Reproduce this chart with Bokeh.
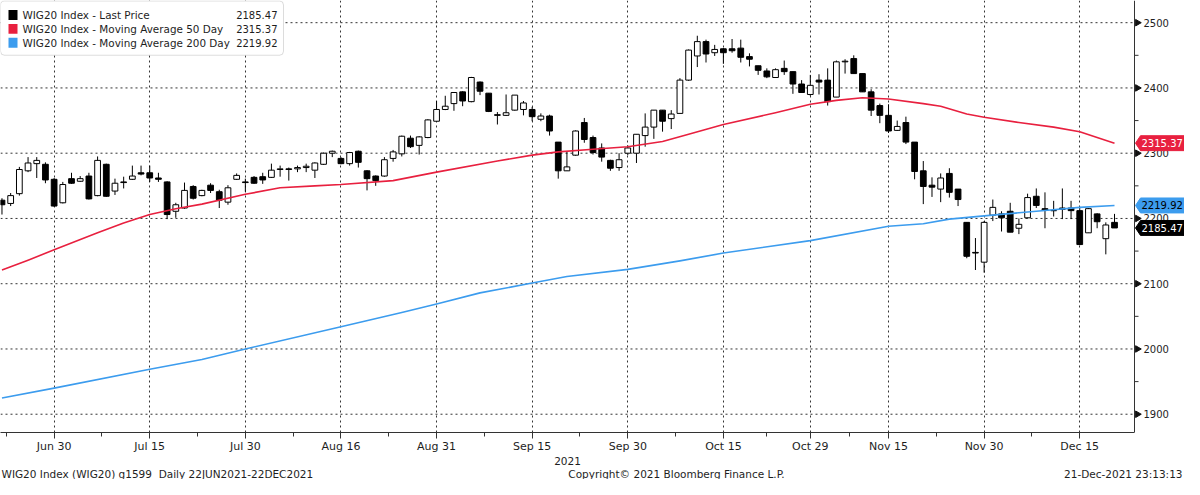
import math
from bokeh.plotting import figure
from bokeh.models import Range1d, FixedTicker, Label, BoxAnnotation, ColumnDataSource
from bokeh.layouts import column
from bokeh.core.properties import value
from bokeh.embed import file_html
from bokeh.resources import INLINE

# ---------------- data (trading-day index 0 = 22 Jun 2021) ----------------
opens = [2228, 2223, 2238, 2273, 2284, 2283, 2260, 2224, 2261, 2257,
         2265, 2235, 2283, 2242, 2256, 2260, 2270, 2270, 2262, 2256,
         2211, 2216, 2249, 2235, 2251, 2241, 2225, 2260, 2256, 2263,
         2264, 2263, 2275, 2276, 2276, 2278, 2274, 2283, 2300, 2292,
         2284, 2303, 2273, 2265, 2265, 2292, 2299, 2323, 2312, 2324,
         2349, 2367, 2376, 2394, 2379, 2409, 2392, 2359, 2358, 2366,
         2367, 2367, 2352, 2357, 2317, 2273, 2297, 2347, 2324, 2308,
         2289, 2278, 2300, 2300, 2327, 2340, 2366, 2353, 2361, 2412,
         2449, 2471, 2454, 2460, 2460, 2461, 2448, 2434, 2426, 2416,
         2430, 2425, 2406, 2390, 2412, 2412, 2386, 2440, 2445, 2422,
         2394, 2373, 2358, 2335, 2347, 2317, 2273, 2251, 2245, 2269,
         2245, 2194, 2148, 2133, 2205, 2207, 2211, 2185, 2201, 2234,
         2215, 2212, 2216, 2216, 2212, 2178, 2207, 2169, 2194]
highs = [2231, 2239, 2279, 2294, 2294, 2286, 2262, 2256, 2270, 2265,
         2270, 2295, 2284, 2261, 2264, 2281, 2281, 2281, 2270, 2257,
         2224, 2255, 2251, 2244, 2254, 2244, 2251, 2269, 2261, 2265,
         2270, 2284, 2281, 2278, 2281, 2284, 2286, 2301, 2304, 2294,
         2302, 2304, 2274, 2266, 2294, 2305, 2327, 2327, 2326, 2352,
         2380, 2388, 2393, 2395, 2417, 2410, 2392, 2363, 2390, 2389,
         2380, 2371, 2361, 2359, 2317, 2302, 2335, 2354, 2327, 2315,
         2290, 2300, 2312, 2329, 2361, 2366, 2366, 2366, 2415, 2459,
         2480, 2474, 2466, 2461, 2475, 2474, 2453, 2434, 2430, 2430,
         2442, 2425, 2412, 2420, 2421, 2430, 2442, 2444, 2450, 2422,
         2398, 2376, 2375, 2350, 2356, 2317, 2288, 2263, 2269, 2277,
         2245, 2194, 2170, 2196, 2229, 2211, 2224, 2200, 2238, 2246,
         2240, 2227, 2246, 2227, 2218, 2216, 2208, 2194, 2207]
lows = [2206, 2219, 2235, 2271, 2262, 2254, 2218, 2223, 2253, 2256,
        2229, 2234, 2233, 2236, 2246, 2259, 2266, 2256, 2256, 2199,
        2201, 2215, 2229, 2234, 2239, 2216, 2221, 2259, 2241, 2253,
        2253, 2262, 2264, 2258, 2271, 2271, 2262, 2282, 2294, 2283,
        2281, 2278, 2243, 2250, 2264, 2287, 2295, 2308, 2298, 2323,
        2348, 2366, 2365, 2372, 2378, 2389, 2363, 2344, 2357, 2365,
        2358, 2349, 2349, 2327, 2261, 2273, 2296, 2316, 2298, 2287,
        2273, 2273, 2297, 2285, 2310, 2322, 2333, 2337, 2361, 2411,
        2432, 2439, 2449, 2437, 2454, 2439, 2433, 2420, 2415, 2416,
        2420, 2391, 2393, 2388, 2390, 2373, 2386, 2422, 2422, 2394,
        2357, 2346, 2331, 2334, 2314, 2260, 2222, 2233, 2225, 2232,
        2219, 2139, 2121, 2117, 2196, 2180, 2179, 2176, 2200, 2216,
        2185, 2203, 2199, 2199, 2159, 2178, 2185, 2145, 2185.47]
closes = [2221, 2235, 2275, 2285, 2289, 2259, 2219, 2252, 2254, 2261,
          2230, 2289, 2234, 2254, 2255, 2265, 2268, 2262, 2260, 2206,
          2221, 2243, 2231, 2243, 2243, 2228, 2247, 2266, 2255, 2254,
          2259, 2274, 2276, 2275, 2278, 2280, 2285, 2300, 2303, 2284,
          2301, 2286, 2261, 2258, 2290, 2302, 2326, 2310, 2325, 2351,
          2367, 2372, 2393, 2380, 2416, 2395, 2364, 2358, 2362, 2389,
          2377, 2356, 2357, 2334, 2273, 2279, 2334, 2321, 2301, 2294,
          2277, 2290, 2308, 2329, 2340, 2366, 2349, 2360, 2412, 2458,
          2471, 2452, 2459, 2454, 2457, 2447, 2444, 2427, 2417, 2428,
          2425, 2406, 2393, 2404, 2409, 2379, 2440, 2441, 2422, 2394,
          2366, 2358, 2334, 2341, 2317, 2272, 2249, 2248, 2262, 2240,
          2229, 2142, 2147, 2194, 2217, 2201, 2179, 2191, 2232, 2220,
          2213, 2212, 2214, 2212, 2160, 2215, 2195, 2190, 2185.47]

ma50_idx = [0, 3, 6, 11, 14, 17, 20, 23, 28, 32, 36, 39, 45, 50, 57, 61, 64, 68,
            72, 76, 79, 83, 89, 93, 96, 99, 102, 106, 108, 111, 113, 117, 121,
            124, 126, 128]
ma50_val = [2121, 2136, 2152, 2178, 2193, 2206, 2215, 2222, 2237, 2247, 2250,
            2252, 2258, 2271, 2288, 2297, 2302, 2306, 2310, 2318, 2329, 2344,
            2362, 2375, 2381, 2385, 2383, 2376, 2372, 2360, 2355, 2347, 2340,
            2333, 2324, 2315.37]
ma200_idx = [0, 6, 17, 23, 28, 39, 46, 50, 55, 61, 65, 72, 78, 83, 93, 102,
             106, 109, 113, 119, 124, 128]
ma200_val = [1925, 1940, 1969, 1984, 2000, 2034, 2056, 2069, 2086, 2101, 2111,
             2122, 2135, 2147, 2166, 2188, 2192, 2199, 2204, 2211, 2217, 2219.92]

x_tick_idx = [6, 17, 28, 39, 50, 61, 72, 83, 93, 102, 113, 124]
x_tick_labels = ["Jun 30", "Jul 15", "Jul 30", "Aug 16", "Aug 31", "Sep 15",
                 "Sep 30", "Oct 15", "Oct 29", "Nov 15", "Nov 30", "Dec 15"]
year_label = "2021"
y_ticks = [1900, 2000, 2100, 2200, 2300, 2400, 2500]
y_tick_labels = ["1900", "2000", "2100", "2200", "2300", "2400", "2500"]
y_minor = [1950, 2050, 2150, 2250, 2350, 2450]

legend_names = ["WIG20 Index - Last Price",
                "WIG20 Index - Moving Average 50 Day",
                "WIG20 Index - Moving Average 200 Day"]
legend_values = ["2185.47", "2315.37", "2219.92"]
last_values = [2185.47, 2315.37, 2219.92]

RED = "#e8203f"
BLUE = "#3c9cee"
FONT = "DejaVu Sans"
INK = "#1e1e1e"

# ---------------- layout ----------------
W, H_MAIN, H_FOOT = 1184, 455, 24
BB = 21                      # bottom border (x axis)
AX = 1134                    # pixel of the price axis line inside the canvas
FH = H_MAIN - BB
X0, XA = -0.17, 130.3        # data x at left edge and at the price axis
Y0, Y1 = 1872, 2534
ppx = AX / (XA - X0)
ppy = FH / (Y1 - Y0)
X_END = X0 + W / ppx


def dx(px):
    return X0 + px / ppx


def dy(py):
    return Y1 - py / ppy


p = figure(width=W, height=H_MAIN, x_range=Range1d(X0, X_END), y_range=Range1d(Y0, Y1),
           y_axis_location=None, output_backend="svg", toolbar_location=None,
           min_border_left=0, min_border_top=0, min_border_right=0, min_border_bottom=BB)
p.outline_line_color = None
p.background_fill_color = "white"
p.border_fill_color = "white"
p.ygrid.visible = False

# vertical grid (library grid) at the date ticks
p.xgrid.ticker = FixedTicker(ticks=x_tick_idx)
p.xgrid.grid_line_color = "#111111"
p.xgrid.grid_line_dash = "2 3"
p.xgrid.grid_line_alpha = 0.85

# horizontal grid, stopping at the price axis
p.segment(x0=[X0] * len(y_ticks), x1=[XA] * len(y_ticks), y0=y_ticks, y1=y_ticks,
          line_color="#111111", line_dash="2 3", line_alpha=0.85, line_width=1)

# x axis
minor_x = [x_tick_idx[0] - 5.5] + [(a + b) / 2 for a, b in zip(x_tick_idx[:-1], x_tick_idx[1:])]
xa = p.xaxis[0]
xa.ticker = FixedTicker(ticks=x_tick_idx, minor_ticks=minor_x)
xa.bounds = (X0, XA)
xa.major_label_overrides = {t: l for t, l in zip(x_tick_idx, x_tick_labels)}
xa.axis_line_color = "#333333"
xa.major_tick_line_color = "#333333"
xa.minor_tick_line_color = "#333333"
xa.major_tick_out = 6
xa.major_tick_in = 0
xa.minor_tick_out = 4
xa.minor_tick_in = 0
xa.major_label_standoff = 1
xa.major_label_text_font = FONT
xa.major_label_text_font_size = "11px"
xa.major_label_text_color = INK

# price axis (right side): line, tick marks, minor ticks, labels
p.segment(x0=[XA], x1=[XA], y0=[Y0], y1=[Y1], line_color="#333333", line_width=1)
p.scatter(x=[dx(AX + 3)] * len(y_ticks), y=y_ticks, marker="triangle", size=6.5,
          angle=-math.pi / 2, fill_color="#111111", line_color="#111111")
p.segment(x0=[XA] * len(y_minor), x1=[dx(AX + 4)] * len(y_minor), y0=y_minor, y1=y_minor,
          line_color="#333333", line_width=1)
p.text(x=[dx(AX + 9)] * len(y_ticks), y=y_ticks, text=y_tick_labels,
       text_align="left", text_baseline="middle", text_font=value(FONT),
       text_font_size="10px", text_color=INK)

# ---------------- candles ----------------
idx = list(range(len(opens)))
tops = [max(o, c) for o, c in zip(opens, closes)]
bots = [min(o, c) for o, c in zip(opens, closes)]
fills = ["white" if c > o else "black" for o, c in zip(opens, closes)]
src = ColumnDataSource(dict(i=idx, h=highs, l=lows, top=tops, bot=bots, fill=fills))
p.segment(x0="i", y0="h", x1="i", y1="l", source=src, line_color="black", line_width=1)
p.vbar(x="i", width=0.66, top="top", bottom="bot", source=src,
       fill_color="fill", line_color="black", line_width=1)

# moving averages
p.line(ma50_idx, ma50_val, line_color=RED, line_width=1.6, line_join="round")
p.line(ma200_idx, ma200_val, line_color=BLUE, line_width=1.6, line_join="round")

# ---------------- value tags on the price axis ----------------
tag_fill = ["black", RED, BLUE]
tag_text = ["white", "white", "black"]
tag_xs, tag_ys = [], []
for v in last_values:
    tag_xs.append([dx(AX + 1), dx(AX + 6), X_END, X_END, dx(AX + 6)])
    tag_ys.append([v, v + 7.5 / ppy, v + 7.5 / ppy, v - 7.5 / ppy, v - 7.5 / ppy])
p.patches(xs=tag_xs, ys=tag_ys, fill_color=tag_fill, line_color=tag_fill, line_width=1)
p.text(x=[dx(AX + 7)] * 3, y=last_values, text=legend_values, text_align="left",
       text_baseline="middle", text_font=value(FONT), text_font_size="10px",
       text_color=tag_text)

# ---------------- legend box ----------------
p.add_layout(BoxAnnotation(left=dx(0), right=dx(283), top=dy(0.5), bottom=dy(55),
                           fill_color="white", fill_alpha=1.0, line_color="#8c8c8c",
                           line_width=1, border_radius=4, level="annotation"))
swatch_colors = ["black", RED, BLUE]
for k, (name, val, col) in enumerate(zip(legend_names, legend_values, swatch_colors)):
    row = 14.5 + 14 * k
    p.add_layout(BoxAnnotation(left=dx(8), right=dx(17), top=dy(row - 5), bottom=dy(row + 5),
                               fill_color=col, fill_alpha=1.0, line_color=None,
                               level="annotation"))
    p.add_layout(Label(x=dx(22), y=dy(row), text=name, text_baseline="middle",
                       text_align="left", text_font=FONT, text_font_size="10.4px",
                       text_color=INK))
    p.add_layout(Label(x=dx(277), y=dy(row), text=val, text_baseline="middle",
                       text_align="right", text_font=FONT, text_font_size="10px",
                       text_color=INK))

# ---------------- footer (year line + copyright line) ----------------
f = figure(width=W, height=H_FOOT, x_range=Range1d(0, W), y_range=Range1d(0, H_FOOT),
           x_axis_location=None, y_axis_location=None, output_backend="svg",
           toolbar_location=None, min_border=0)
f.outline_line_color = None
f.grid.visible = False
f.background_fill_color = "white"
f.text(x=[AX / 2], y=[H_FOOT - 5.5], text=[year_label], text_align="center",
       text_baseline="middle", text_font=value(FONT), text_font_size="10.5px",
       text_color=INK)
foot_texts = ["WIG20 Index (WIG20) g1599\u00a0 Daily 22JUN2021-22DEC2021",
              "Copyright\u00a9 2021 Bloomberg Finance L.P.",
              "21-Dec-2021 23:13:13"]
foot_x = [1, 676, 1182]
foot_align = ["left", "center", "right"]
f.text(x=foot_x, y=[6] * 3, text=foot_texts, text_align=foot_align,
       text_baseline="middle", text_font=value(FONT), text_font_size="10.5px",
       text_color=INK)

layout = column(p, f, spacing=0)
open("out.html", "w").write(file_html(layout, INLINE))
